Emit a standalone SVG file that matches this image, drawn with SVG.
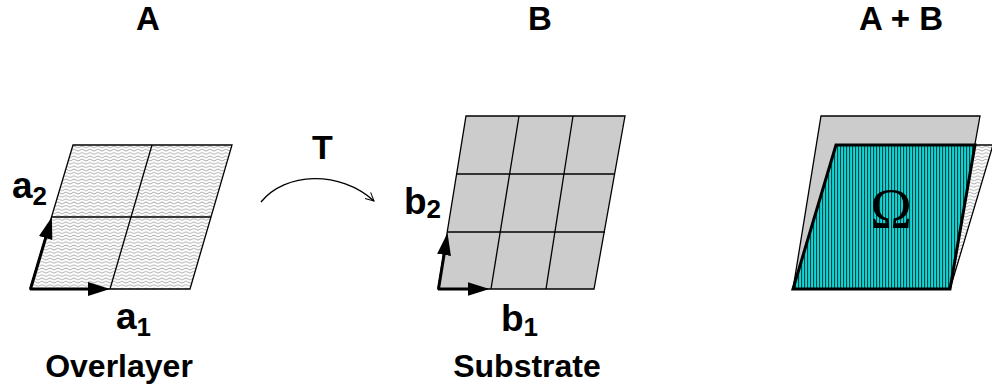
<svg xmlns="http://www.w3.org/2000/svg" width="992" height="387" viewBox="0 0 992 387">
<defs>
<style>
.t{font-family:"Liberation Sans",Arial,sans-serif;font-weight:bold;fill:#000}
.edge{stroke:#000;stroke-width:1.3}
.vec{stroke:#000;stroke-width:3;fill:none}
</style>
<pattern id="wavy" width="8" height="3.3" patternUnits="userSpaceOnUse">
<rect width="8" height="3.3" fill="#fff"/>
<path d="M0,1.7 q2,-1.8 4,0 t4,0" stroke="#7a7a7a" stroke-width="0.65" fill="none"/>
</pattern>
<pattern id="cyan" width="3" height="6" patternUnits="userSpaceOnUse">
<rect width="3" height="6" fill="#14d4d4"/>
<rect x="0" width="1.1" height="6" fill="#004646"/>
</pattern>
<marker id="head" viewBox="0 0 22 14" refX="8" refY="7" markerWidth="22" markerHeight="14" orient="auto" markerUnits="userSpaceOnUse">
<path d="M0,0 L22,7 L0,14 z" fill="#000"/>
</marker>
<marker id="open" viewBox="0 0 12 12" refX="11" refY="6" markerWidth="10" markerHeight="10" orient="auto" markerUnits="userSpaceOnUse">
<path d="M1,1 L11,6 L1,11" fill="none" stroke="#000" stroke-width="1.2"/>
</marker>
</defs>
<rect width="992" height="387" fill="#fff"/>

<g id="titles">
<text class="t" x="148" y="30" font-size="33" text-anchor="middle">A</text>
<text class="t" x="540" y="30" font-size="33" text-anchor="middle">B</text>
<text class="t" x="901" y="30" font-size="33" text-anchor="middle">A + B</text>
</g>

<g id="overlayer">
<polygon points="30,289 190,289 232,145 73,145" fill="url(#wavy)" class="edge"/>
<line x1="52" y1="217" x2="211" y2="217" class="edge"/>
<line x1="110" y1="289" x2="152" y2="145" class="edge"/>
<text class="t" x="119" y="377" font-size="32" text-anchor="middle">Overlayer</text>
</g>

<g id="substrate">
<polygon points="438,289 594,289 625,116 466,116" fill="#cccccc" class="edge"/>
<line x1="456" y1="174" x2="615" y2="174" class="edge"/>
<line x1="447" y1="232" x2="605" y2="232" class="edge"/>
<line x1="491" y1="289" x2="519" y2="116" class="edge"/>
<line x1="546" y1="289" x2="573" y2="116" class="edge"/>
<text class="t" x="527" y="377" font-size="32" text-anchor="middle">Substrate</text>
</g>

<g id="combined">
<polygon points="793,289 949,289 980,116 821,116" fill="#cccccc" class="edge"/>
<polygon points="793,289 950,289 993,145 836,145" fill="url(#wavy)" class="edge"/>
<polygon points="793,289 950,289 975,145 836,145" fill="url(#cyan)" stroke="#000" stroke-width="3"/>
<text x="891" y="228" font-family="'Liberation Serif','Times New Roman',serif" font-size="56" text-anchor="middle" fill="#000">Ω</text>
</g>

<g id="connectors">
<line x1="30" y1="289" x2="96" y2="289" class="vec" marker-end="url(#head)"/>
<line x1="30.5" y1="289" x2="47.9" y2="230.4" class="vec" marker-end="url(#head)"/>
<line x1="438" y1="289" x2="475.5" y2="289" class="vec" marker-end="url(#head)"/>
<line x1="438.5" y1="289" x2="445.3" y2="246.9" class="vec" marker-end="url(#head)"/>
<path d="M261,202 C285,172 340,170 374,201" fill="none" stroke="#000" stroke-width="1.4" marker-end="url(#open)"/>
</g>

<g id="labels">
<text class="t" x="12" y="198" font-size="37">a<tspan font-size="26" dy="7">2</tspan></text>
<text class="t" x="116" y="329" font-size="37">a<tspan font-size="26" dy="7">1</tspan></text>
<text class="t" x="404" y="214" font-size="37">b<tspan font-size="26" dy="4">2</tspan></text>
<text class="t" x="501" y="331" font-size="37">b<tspan font-size="26" dy="5">1</tspan></text>
<text class="t" x="322.5" y="159" font-size="34" text-anchor="middle">T</text>
</g>
</svg>
